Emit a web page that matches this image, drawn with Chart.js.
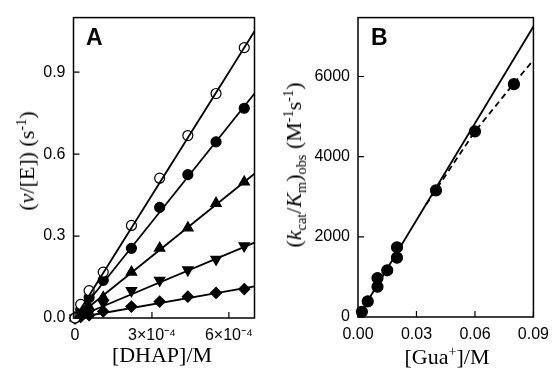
<!DOCTYPE html>
<html><head><meta charset="utf-8">
<script src="https://cdn.jsdelivr.net/npm/chart.js@4"></script>
<style>
html,body{margin:0;padding:0;background:#fff;width:557px;height:379px;overflow:hidden;position:relative;}
canvas{position:absolute;top:0;}
.t{position:absolute;font-family:"Liberation Serif","Times New Roman",serif;font-size:22px;color:#000;white-space:nowrap;line-height:1;}
.rot{transform:translate(-50%,-50%) rotate(-90deg);}
.hc{transform:translate(-50%,-50%);}
.lab{position:absolute;font-family:"Liberation Sans",Arial,sans-serif;font-weight:bold;font-size:23px;color:#000;line-height:1;}
sub,sup{font-size:65%;line-height:0;}
</style></head><body>
<canvas id="ca" width="278" height="379" style="left:0"></canvas>
<canvas id="cb" width="279" height="379" style="left:278px"></canvas>
<div class="lab" style="left:86px;top:26px">A</div>
<div class="lab" style="left:371px;top:26px">B</div>
<div class="t rot" style="left:27px;top:161px">(<i>ν</i>/[E]) (s<sup>-1</sup>)</div>
<div class="t hc" style="left:162px;top:355px">[DHAP]/M</div>
<div class="t rot" style="left:294px;top:165px">(<i>k</i><sub>cat</sub>/<i>K</i><sub>m</sub>)<sub>obs</sub> (M<sup>-1</sup>s<sup>-1</sup>)</div>
<div class="t hc" style="left:447px;top:357px">[Gua<sup>+</sup>]/M</div>
<script>
// ---- Panel A data ----
const dhap = [0, 2.2e-5, 5.5e-5, 1.1e-4, 2.2e-4, 3.3e-4, 4.4e-4, 5.5e-4, 6.6e-4];
const seriesOpen     = [0, 0.050, 0.100, 0.168, 0.339, 0.512, 0.668, 0.822, 0.990];
const seriesFilled   = [0, 0.030, 0.075, 0.138, 0.255, 0.405, 0.525, 0.645, 0.768];
const seriesTri      = [0, 0.015, 0.040, 0.075, 0.168, 0.256, 0.330, 0.420, 0.498];
const seriesTriDown  = [0, 0.008, 0.020, 0.055, 0.100, 0.138, 0.176, 0.215, 0.264];
const seriesDiamond  = [0, 0.004, 0.010, 0.024, 0.042, 0.060, 0.078, 0.092, 0.106];
const fitXA = [0, 7.0e-4];
const fitEndA = [1.050, 0.822, 0.528, 0.276, 0.116];
const xTicksA = [0, 3e-4, 6e-4];
const xTickLabelsA = ['0', '3×10⁻⁴', '6×10⁻⁴'];
const yTicksA = [0, 0.3, 0.6, 0.9];
const yTickLabelsA = ['0.0', '0.3', '0.6', '0.9'];

// ---- Panel B data ----
const gua  = [0.002, 0.005, 0.010, 0.010, 0.015, 0.020, 0.020, 0.040, 0.060, 0.080];
const kobs = [130, 390, 755, 970, 1165, 1480, 1740, 3160, 4630, 5810];
const solidX = [0, 0.09];
const solidY = [0, 7250];
const dashX = [0.035, 0.06, 0.08, 0.09];
const dashY = [2810, 4630, 5830, 6410];
const xTicksB = [0, 0.03, 0.06, 0.09];
const xTickLabelsB = ['0.00', '0.03', '0.06', '0.09'];
const yTicksB = [0, 2000, 4000, 6000];
const yTickLabelsB = ['0', '2000', '4000', '6000'];

const tickFont = {family: '"Liberation Sans", Arial, sans-serif', size: 16};

const frameTicks = {
  id: 'frameTicks',
  afterDraw(chart) {
    const {ctx, chartArea: a, scales} = chart;
    ctx.save();
    ctx.strokeStyle = '#000';
    ctx.lineWidth = 1.5;
    ctx.strokeRect(a.left, a.top, a.right - a.left, a.bottom - a.top);
    ctx.lineWidth = 1.2;
    ctx.beginPath();
    scales.x.ticks.forEach(t => {
      const p = scales.x.getPixelForValue(t.value);
      ctx.moveTo(p, a.bottom); ctx.lineTo(p, a.bottom - 6);
    });
    scales.y.ticks.forEach(t => {
      const p = scales.y.getPixelForValue(t.value);
      ctx.moveTo(a.left, p); ctx.lineTo(a.left + 6, p);
    });
    ctx.stroke();
    ctx.restore();
  }
};

function axis(min, max, ticks, labels, fit) {
  return {
    type: 'linear', min, max,
    grid: {display: false, drawTicks: false},
    border: {display: false},
    afterBuildTicks: s => { s.ticks = ticks.map(v => ({value: v})); },
    afterFit: fit,
    ticks: {color: '#000', font: tickFont, padding: 8, autoSkip: false, maxRotation: 0,
            callback: (v, i) => labels[i]}
  };
}

function pts(xs, ys) { return xs.map((x, i) => ({x, y: ys[i]})); }

function marker(data, style, fill, rot, r) {
  return {type: 'scatter', data, showLine: false, pointStyle: style, pointRotation: rot || 0,
    pointRadius: r, pointBackgroundColor: fill, pointBorderColor: '#000',
    pointBorderWidth: 1.2, clip: false};
}
function line(data, dash) {
  return {type: 'line', data, borderColor: '#000', borderWidth: 1.8, pointRadius: 0,
    borderDash: dash || [], tension: 0, fill: false, clip: false};
}

const seriesA = [seriesOpen, seriesFilled, seriesTri, seriesTriDown, seriesDiamond];
const dsA = [];
seriesA.forEach((s, i) => dsA.push(line(pts(fitXA, [0, fitEndA[i]]))));
dsA.push(marker(pts(dhap, seriesOpen), 'circle', '#fff', 0, 5));
dsA.push(marker(pts(dhap, seriesFilled), 'circle', '#000', 0, 5));
dsA.push(marker(pts(dhap, seriesTri), 'triangle', '#000', 0, 6));
dsA.push(marker(pts(dhap, seriesTriDown), 'triangle', '#000', 180, 6));
dsA.push(marker(pts(dhap, seriesDiamond), 'rectRot', '#000', 0, 5.5));

new Chart(document.getElementById('ca'), {
  type: 'scatter',
  data: {datasets: dsA},
  options: {
    responsive: false, animation: false, devicePixelRatio: 1,
    layout: {padding: {top: 13, right: 23.5, left: 0, bottom: 0}},
    plugins: {legend: {display: false}, tooltip: {enabled: false}},
    scales: {
      x: axis(-6e-6, 7.0e-4, xTicksA, xTickLabelsA, s => { s.height = 61; }),
      y: axis(0, 1.1, yTicksA, yTickLabelsA, s => { s.width = 73.5; })
    }
  },
  plugins: [frameTicks]
});

const dsB = [
  line(pts(solidX, solidY)),
  line(pts(dashX, dashY), [6, 4]),
  marker(pts(gua, kobs), 'circle', '#000', 0, 5.5)
];

new Chart(document.getElementById('cb'), {
  type: 'scatter',
  data: {datasets: dsB},
  options: {
    responsive: false, animation: false, devicePixelRatio: 1,
    layout: {padding: {top: 13, right: 20, left: 0, bottom: 0}},
    plugins: {legend: {display: false}, tooltip: {enabled: false}},
    scales: {
      x: axis(0, 0.09, xTicksB, xTickLabelsB, s => { s.height = 62; }),
      y: axis(0, 7470, yTicksB, yTickLabelsB, s => { s.width = 80; })
    }
  },
  plugins: [frameTicks]
});
</script>
</body></html>
